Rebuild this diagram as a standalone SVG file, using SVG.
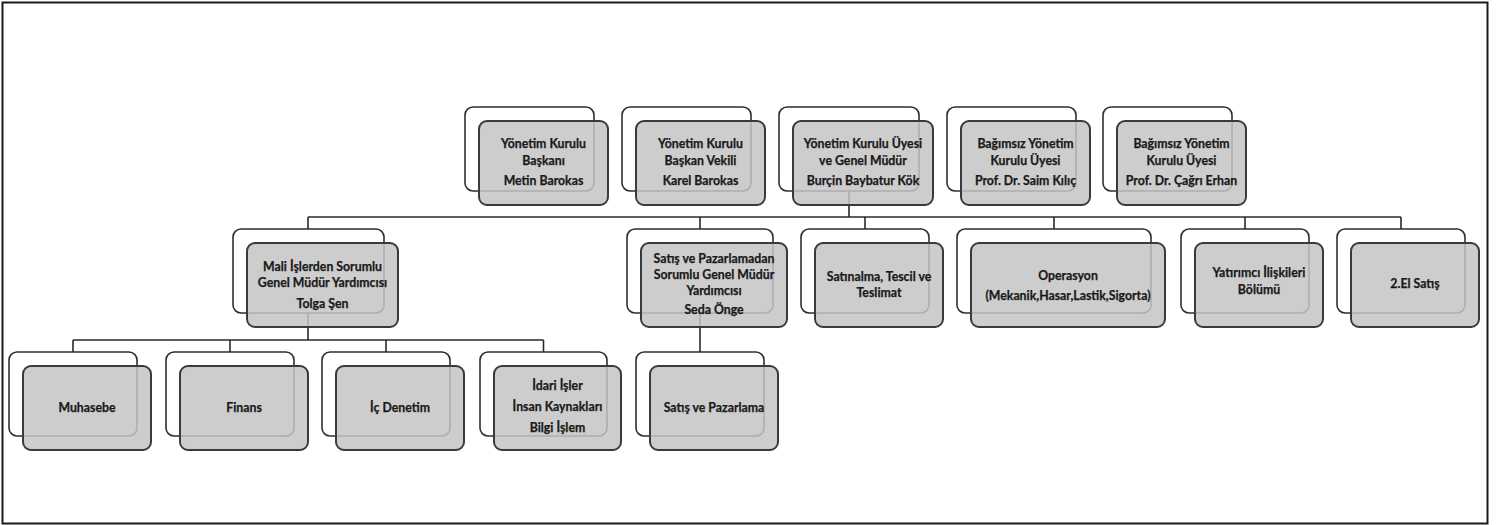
<svg xmlns="http://www.w3.org/2000/svg" width="1499" height="525" viewBox="0 0 1499 525">
<style>
.frame{fill:#fff;stroke:#1a1a1a;stroke-width:2}
.conn{fill:none;stroke:#2a2a2a;stroke-width:1.6}
.back{fill:#fff;stroke:#2e2e2e;stroke-width:1.6}
.front{fill:#c4c4c4;fill-opacity:0.85;stroke:#3a3a3a;stroke-width:2}
text{font-family:Lato,"Liberation Sans",sans-serif;font-weight:bold;font-size:12.3px;fill:#1a1a1a;stroke:#1a1a1a;stroke-width:0.25;text-anchor:middle}
</style>
<rect class="frame" x="2.5" y="2.5" width="1485" height="521"/>
<g id="connectors">
<path class="conn" d="M849,191V217M308,217H1401M308,217V229M700,217V229M865,217V229M1054,217V229M1245,217V229M1401,217V229"/>
<path class="conn" d="M308,313V340M73,340H543.5M73,340V352M230,340V352M386,340V352M543.5,340V352"/>
<path class="conn" d="M700,313V352"/>
</g>
<g id="n-baskan">
<rect class="back" x="465" y="107" width="129" height="84" rx="8"/>
<rect class="front" x="479" y="121" width="129" height="84" rx="8"/>
<text x="543.5" y="148">Yönetim Kurulu</text><text x="543.5" y="165">Başkanı</text><text x="543.5" y="185">Metin Barokas</text>
</g>
<g id="n-vekil">
<rect class="back" x="622" y="107" width="129" height="84" rx="8"/>
<rect class="front" x="636" y="121" width="129" height="84" rx="8"/>
<text x="700.5" y="148">Yönetim Kurulu</text><text x="700.5" y="165">Başkan Vekili</text><text x="700.5" y="185">Karel Barokas</text>
</g>
<g id="n-gm">
<rect class="back" x="779" y="107" width="140" height="84" rx="8"/>
<rect class="front" x="793" y="121" width="140" height="84" rx="8"/>
<text x="863" y="148">Yönetim Kurulu Üyesi</text><text x="863" y="165">ve Genel Müdür</text><text x="863" y="185">Burçin Baybatur Kök</text>
</g>
<g id="n-bagimsiz1">
<rect class="back" x="947" y="107" width="129" height="84" rx="8"/>
<rect class="front" x="961" y="121" width="129" height="84" rx="8"/>
<text x="1025.5" y="148">Bağımsız Yönetim</text><text x="1025.5" y="165">Kurulu Üyesi</text><text x="1025.5" y="185">Prof. Dr. Saim Kılıç</text>
</g>
<g id="n-bagimsiz2">
<rect class="back" x="1103" y="107" width="129" height="84" rx="8"/>
<rect class="front" x="1117" y="121" width="129" height="84" rx="8"/>
<text x="1181.5" y="148">Bağımsız Yönetim</text><text x="1181.5" y="165">Kurulu Üyesi</text><text x="1181.5" y="185">Prof. Dr. Çağrı Erhan</text>
</g>
<g id="n-mali">
<rect class="back" x="233" y="229" width="151" height="84" rx="8"/>
<rect class="front" x="247" y="243" width="151" height="84" rx="8"/>
<text x="322.5" y="271">Mali İşlerden Sorumlu</text><text x="322.5" y="287">Genel Müdür Yardımcısı</text><text x="322.5" y="308">Tolga Şen</text>
</g>
<g id="n-satispaz">
<rect class="back" x="627" y="229" width="146" height="84" rx="8"/>
<rect class="front" x="641" y="243" width="146" height="84" rx="8"/>
<text x="714" y="263">Satış ve Pazarlamadan</text><text x="714" y="279">Sorumlu Genel Müdür</text><text x="714" y="295">Yardımcısı</text><text x="714" y="314">Seda Önge</text>
</g>
<g id="n-satinalma">
<rect class="back" x="801" y="229" width="128" height="84" rx="8"/>
<rect class="front" x="815" y="243" width="128" height="84" rx="8"/>
<text x="879" y="281">Satınalma, Tescil ve</text><text x="879" y="297">Teslimat</text>
</g>
<g id="n-operasyon">
<rect class="back" x="957" y="229" width="194" height="84" rx="8"/>
<rect class="front" x="971" y="243" width="194" height="84" rx="8"/>
<text x="1068" y="280">Operasyon</text><text x="1068" y="300">(Mekanik,Hasar,Lastik,Sigorta)</text>
</g>
<g id="n-yatirimci">
<rect class="back" x="1181" y="229" width="128" height="84" rx="8"/>
<rect class="front" x="1195" y="243" width="128" height="84" rx="8"/>
<text x="1259" y="277">Yatırımcı İlişkileri</text><text x="1259" y="294">Bölümü</text>
</g>
<g id="n-2el">
<rect class="back" x="1337" y="229" width="128" height="84" rx="8"/>
<rect class="front" x="1351" y="243" width="128" height="84" rx="8"/>
<text x="1415" y="288">2.El Satış</text>
</g>
<g id="n-muhasebe">
<rect class="back" x="9" y="352" width="128" height="84" rx="8"/>
<rect class="front" x="23" y="366" width="128" height="84" rx="8"/>
<text x="87" y="412">Muhasebe</text>
</g>
<g id="n-finans">
<rect class="back" x="166" y="352" width="128" height="84" rx="8"/>
<rect class="front" x="180" y="366" width="128" height="84" rx="8"/>
<text x="244" y="412">Finans</text>
</g>
<g id="n-icdenetim">
<rect class="back" x="322" y="352" width="128" height="84" rx="8"/>
<rect class="front" x="336" y="366" width="128" height="84" rx="8"/>
<text x="400" y="412">İç Denetim</text>
</g>
<g id="n-idari">
<rect class="back" x="480" y="352" width="127" height="84" rx="8"/>
<rect class="front" x="494" y="366" width="127" height="84" rx="8"/>
<text x="557.5" y="390">İdari İşler</text><text x="557.5" y="411">İnsan Kaynakları</text><text x="557.5" y="432">Bilgi İşlem</text>
</g>
<g id="n-satis">
<rect class="back" x="636" y="352" width="128" height="84" rx="8"/>
<rect class="front" x="650" y="366" width="128" height="84" rx="8"/>
<text x="714" y="412">Satış ve Pazarlama</text>
</g>
</svg>
